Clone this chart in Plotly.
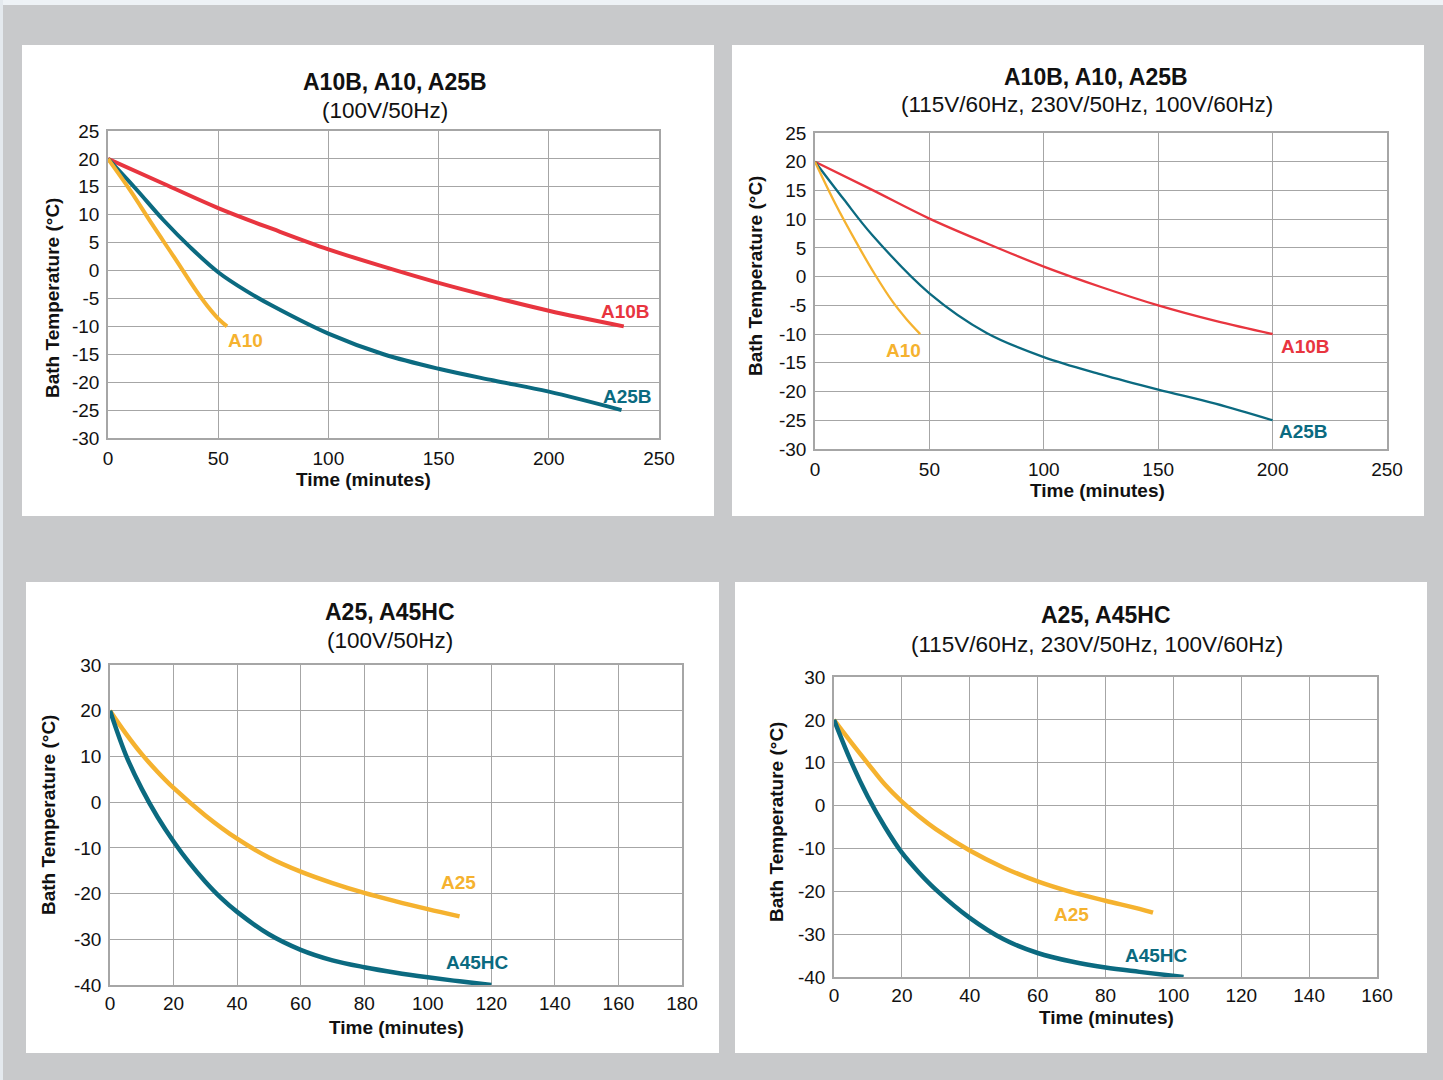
import plotly.graph_objects as go

W, H = 1443, 1080

# ---------------- data ----------------
# Panel 1: A10B, A10, A25B (100V/50Hz)
p1_a10b_t = [0, 25, 50, 75, 100, 125, 150, 175, 200, 234]
p1_a10b_T = [20, 15.6, 11.2, 7.4, 3.8, 0.7, -2.2, -4.8, -7.2, -10]
p1_a10_t = [0, 10, 20, 30, 40, 45, 50, 54]
p1_a10_T = [20, 14.4, 8.3, 2.4, -3.6, -6.3, -8.6, -10]
p1_a25b_t = [0, 12.5, 25, 37.5, 50, 62.5, 75, 100, 125, 150, 175, 200, 233]
p1_a25b_T = [20, 14.7, 9.1, 4.1, -0.3, -3.6, -6.4, -11.3, -15.0, -17.6, -19.7, -21.7, -25]

# Panel 2: A10B, A10, A25B (115V/60Hz, 230V/50Hz, 100V/60Hz)
p2_a10b_t = [0, 25, 50, 75, 100, 125, 150, 175, 200]
p2_a10b_T = [20, 15.1, 10.1, 5.8, 1.75, -1.8, -5.0, -7.7, -10]
p2_a10_t = [0, 9, 18, 26, 34, 40, 46]
p2_a10_T = [20, 12.6, 6.0, 0.5, -4.4, -7.4, -10]
p2_a25b_t = [0, 12.5, 25, 50, 75, 100, 125, 150, 175, 200]
p2_a25b_T = [20, 13.5, 7.25, -2.9, -9.8, -14.0, -17.0, -19.65, -22.1, -25]

# Panel 3: A25, A45HC (100V/50Hz)
p3_a25_t = [0, 5, 10, 15, 20, 30, 40, 50, 60, 70, 80, 90, 100, 110]
p3_a25_T = [20, 15.0, 10.5, 6.6, 3.1, -2.9, -8.0, -12.1, -15.2, -17.7, -19.85, -21.7, -23.4, -25]
p3_a45_t = [0, 5, 10, 15, 20, 25, 30, 35, 40, 50, 60, 70, 80, 90, 100, 110, 120]
p3_a45_T = [20, 10.3, 2.9, -3.3, -8.6, -13.3, -17.4, -21.0, -24.0, -28.9, -32.3, -34.6,
            -36.1, -37.3, -38.3, -39.2, -40]

# Panel 4: A25, A45HC (115V/60Hz, 230V/50Hz, 100V/60Hz)
p4_a25_t = [0, 5, 10, 15, 20, 25, 30, 40, 50, 60, 70, 80, 90, 94]
p4_a25_T = [20, 14.8, 9.8, 4.9, 0.9, -2.5, -5.5, -10.5, -14.5, -17.7, -20.2, -22.2, -24.1, -25]
p4_a45_t = [0, 5, 10, 15, 20, 25, 30, 40, 50, 60, 70, 80, 90, 103]
p4_a45_T = [20, 10.3, 2.0, -5.0, -11.0, -15.6, -19.6, -26.2, -31.2, -34.4, -36.4, -37.8, -38.8, -40]

titles = ["A10B, A10, A25B", "A10B, A10, A25B", "A25, A45HC", "A25, A45HC"]
subtitles = ["(100V/50Hz)", "(115V/60Hz, 230V/50Hz, 100V/60Hz)",
             "(100V/50Hz)", "(115V/60Hz, 230V/50Hz, 100V/60Hz)"]
x_title = "Time (minutes)"
y_title = "Bath Temperature (°C)"

# tick values / labels
x_ticks = [[0, 50, 100, 150, 200, 250], [0, 50, 100, 150, 200, 250],
           [0, 20, 40, 60, 80, 100, 120, 140, 160, 180],
           [0, 20, 40, 60, 80, 100, 120, 140, 160]]
y_ticks = [[25, 20, 15, 10, 5, 0, -5, -10, -15, -20, -25, -30],
           [25, 20, 15, 10, 5, 0, -5, -10, -15, -20, -25, -30],
           [30, 20, 10, 0, -10, -20, -30, -40],
           [30, 20, 10, 0, -10, -20, -30, -40]]

RED = "#e8353f"
YEL = "#f5b22f"
TEAL = "#0b6a80"
GRID = "#a6a6a6"
BG = "#c8c9cb"
FONT = "Liberation Sans, Arial, sans-serif"

# ---------------- layout helpers ----------------
def px(x):
    return x / W

def py(y):
    return 1 - y / H

# plot areas in pixels: (x0, x1, y_top, y_bottom)
areas = [
    (108, 659, 131, 438),
    (815, 1387, 133, 449),
    (110, 682, 665, 985),
    (834, 1377, 677, 977),
]
panels = [
    (22, 714, 45, 516),
    (732, 1424, 45, 516),
    (26, 719, 582, 1053),
    (735, 1427, 582, 1053),
]
title_pos = [(395, 82), (1096, 77), (390, 612), (1106, 615)]
sub_pos = [(385, 110), (1087, 104), (390, 640), (1097, 644)]
xt_pos = [(363, 479), (1097, 490), (397, 1027), (1106, 1018)]
yt_pos = [(52, 298), (755, 276), (48, 815), (776, 822)]
x_tick_len = [2, 2, 0, 0]

fig = go.Figure()

series = [
    (1, p1_a10b_t, p1_a10b_T, RED, 4),
    (1, p1_a25b_t, p1_a25b_T, TEAL, 4),
    (1, p1_a10_t, p1_a10_T, YEL, 4),
    (2, p2_a10b_t, p2_a10b_T, RED, 2.3),
    (2, p2_a25b_t, p2_a25b_T, TEAL, 2.3),
    (2, p2_a10_t, p2_a10_T, YEL, 2.3),
    (3, p3_a25_t, p3_a25_T, YEL, 4.5),
    (3, p3_a45_t, p3_a45_T, TEAL, 4.5),
    (4, p4_a25_t, p4_a25_T, YEL, 4.5),
    (4, p4_a45_t, p4_a45_T, TEAL, 4.5),
]
for i, t, T, c, w in series:
    sfx = "" if i == 1 else str(i)
    fig.add_trace(go.Scatter(x=t, y=T, mode="lines", xaxis="x" + sfx, yaxis="y" + sfx,
                             line=dict(color=c, width=w, shape="spline", smoothing=1.0),
                             showlegend=False, hoverinfo="skip"))

shapes = [
    dict(type="rect", xref="paper", yref="paper", x0=0, x1=1, y0=py(5), y1=1,
         fillcolor="#eef2f6", line_width=0, layer="below"),
    dict(type="rect", xref="paper", yref="paper", x0=0, x1=px(3), y0=0, y1=1,
         fillcolor="#e4e9ee", line_width=0, layer="below"),
]
annotations = []
layout_axes = {}
for k in range(4):
    sfx = "" if k == 0 else str(k + 1)
    x0, x1, yt, yb = areas[k]
    xv, yv = x_ticks[k], y_ticks[k]
    layout_axes["xaxis" + sfx] = dict(
        domain=[px(x0), px(x1)], range=[min(xv), max(xv)], automargin=False,
        tickmode="array", tickvals=xv, ticktext=[str(v) for v in xv],
        anchor="y" + sfx, showgrid=True, gridcolor=GRID, gridwidth=1.3,
        showline=True, linecolor=GRID, linewidth=1.5, mirror=True, zeroline=False,
        ticks="outside" if x_tick_len[k] else "", ticklen=x_tick_len[k],
        tickcolor="rgba(0,0,0,0)",
        tickfont=dict(family=FONT, size=19, color="#111"), fixedrange=True)
    layout_axes["yaxis" + sfx] = dict(
        domain=[py(yb), py(yt)], range=[min(yv), max(yv)], automargin=False,
        tickmode="array", tickvals=yv, ticktext=[str(v) for v in yv],
        anchor="x" + sfx, showgrid=True, gridcolor=GRID, gridwidth=1.3,
        showline=True, linecolor=GRID, linewidth=1.5, mirror=True, zeroline=False,
        ticks="outside", ticklen=3, tickcolor="rgba(0,0,0,0)",
        tickfont=dict(family=FONT, size=19, color="#111"), fixedrange=True)
    p = panels[k]
    shapes.append(dict(type="rect", xref="paper", yref="paper",
                       x0=px(p[0]), x1=px(p[1]), y0=py(p[3]), y1=py(p[2]),
                       fillcolor="white", line_width=0, layer="below"))
    annotations.append(dict(text="<b>" + titles[k] + "</b>", xref="paper", yref="paper",
                            x=px(title_pos[k][0]), y=py(title_pos[k][1]), showarrow=False,
                            xanchor="center", yanchor="middle",
                            font=dict(family=FONT, size=23, color="#111")))
    annotations.append(dict(text=subtitles[k], xref="paper", yref="paper",
                            x=px(sub_pos[k][0]), y=py(sub_pos[k][1]), showarrow=False,
                            xanchor="center", yanchor="middle",
                            font=dict(family=FONT, size=22.5, color="#111")))
    annotations.append(dict(text="<b>" + x_title + "</b>", xref="paper", yref="paper",
                            x=px(xt_pos[k][0]), y=py(xt_pos[k][1]), showarrow=False,
                            xanchor="center", yanchor="middle",
                            font=dict(family=FONT, size=19, color="#111")))
    annotations.append(dict(text="<b>" + y_title + "</b>", xref="paper", yref="paper",
                            x=px(yt_pos[k][0]), y=py(yt_pos[k][1]), showarrow=False,
                            xanchor="center", yanchor="middle", textangle=-90,
                            font=dict(family=FONT, size=19, color="#111")))

# series labels (data coordinates)
labels = [
    (1, "A10B", 234.6, -7.4, RED),
    (1, "A10", 62.2, -12.6, YEL),
    (1, "A25B", 235.9, -22.5, TEAL),
    (2, "A10", 38.5, -12.9, YEL),
    (2, "A10B", 214.2, -12.2, RED),
    (2, "A25B", 213.3, -27.0, TEAL),
    (3, "A25", 109.8, -17.5, YEL),
    (3, "A45HC", 115.8, -35.0, TEAL),
    (4, "A25", 70.0, -25.5, YEL),
    (4, "A45HC", 95.0, -34.9, TEAL),
]
for i, txt, x, y, c in labels:
    sfx = "" if i == 1 else str(i)
    annotations.append(dict(text="<b>" + txt + "</b>", xref="x" + sfx, yref="y" + sfx,
                            x=x, y=y, showarrow=False, xanchor="center", yanchor="middle",
                            font=dict(family=FONT, size=19, color=c)))

fig.update_layout(
    width=W, height=H, margin=dict(l=0, r=0, t=0, b=0, pad=0, autoexpand=False),
    paper_bgcolor=BG, plot_bgcolor="white",
    shapes=shapes, annotations=annotations, showlegend=False,
    **layout_axes,
)

fig.write_html("out.html", config={"displayModeBar": False})
